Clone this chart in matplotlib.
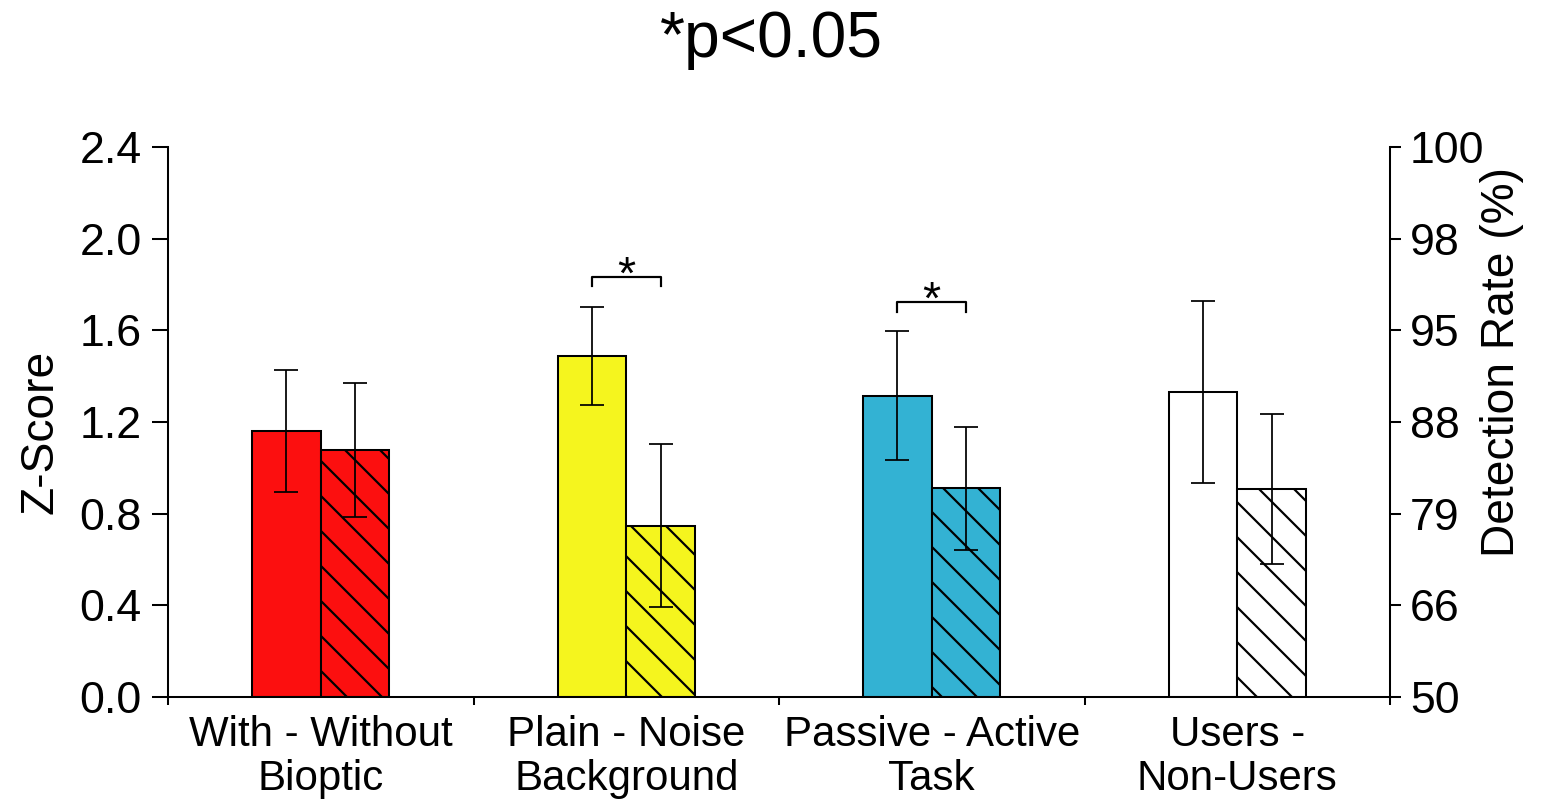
import numpy as np
import matplotlib.pyplot as plt

plt.rcParams['font.family'] = ['Liberation Sans', 'DejaVu Sans']
plt.rcParams['hatch.linewidth'] = 0.75

# data
groups = ["With - Without\nBioptic", "Plain - Noise\nBackground",
          "Passive - Active\nTask", "Users -\nNon-Users"]
first_vals = [1.162, 1.49, 1.315, 1.332]
first_err = [0.267, 0.214, 0.282, 0.397]
second_vals = [1.078, 0.747, 0.911, 0.908]
second_err = [0.292, 0.355, 0.269, 0.326]
colors = ["#fc0f0f", "#f5f51e", "#33b2d3", "#ffffff"]

yticks = [0.0, 0.4, 0.8, 1.2, 1.6, 2.0, 2.4]
right_labels = ["50", "66", "79", "88", "95", "98", "100"]

# significance brackets: group index, bracket height, tick drop
sig_groups = [1, 2]
sig_heights = [1.834, 1.724]
sig_drop = 0.042

W, H, DPI = 1543, 802, 210
fig = plt.figure(figsize=(W / DPI, H / DPI), dpi=DPI)
ax = fig.add_axes([168 / W, 1 - 697 / H, (1390 - 168) / W, (697 - 147) / H])

x = np.arange(len(groups))
bw = 0.225
ekw = dict(elinewidth=0.6, capthick=0.6, ecolor="black")
ax.bar(x - bw / 2, first_vals, bw, color=colors, edgecolor="black",
       linewidth=0.7, yerr=first_err, capsize=4, error_kw=ekw, zorder=2)
ax.bar(x + bw / 2, second_vals, bw, color=colors, edgecolor="black",
       linewidth=0.7, hatch="\\\\", yerr=second_err, capsize=4, error_kw=ekw, zorder=2)

for g, h in zip(sig_groups, sig_heights):
    xl, xr = g - bw / 2, g + bw / 2
    ax.plot([xl, xl, xr, xr], [h - sig_drop, h, h, h - sig_drop],
            color="black", linewidth=0.75, zorder=3)
    ax.text(g, h, "*", ha="center", va="center", fontsize=16)

ax.set_xlim(-0.5, 3.5)
ax.set_ylim(0, 2.4)
ax.set_yticks(yticks)
ax.set_yticklabels([f"{t:.1f}" for t in yticks])
ax.set_xticks(x)
ax.set_xticklabels(groups, linespacing=1.15)
ax.set_xticks(np.arange(-0.5, 3.6, 1.0), minor=True)
ax.tick_params(axis="x", which="major", length=0, labelsize=14.4, pad=6)
ax.tick_params(axis="x", which="minor", length=2.8, width=0.7, direction="out")
ax.tick_params(axis="y", length=5.5, width=0.7, labelsize=15.3, pad=3.5)
for s in ["top", "right"]:
    ax.spines[s].set_visible(False)
ax.spines["left"].set_linewidth(0.7)
ax.spines["bottom"].set_linewidth(0.7)

ax2 = ax.twinx()
ax2.set_ylim(0, 2.4)
ax2.set_yticks(yticks)
ax2.set_yticklabels(right_labels)
ax2.tick_params(axis="y", length=3.8, width=0.7, labelsize=15.3, pad=3)
for s in ["top", "left", "bottom"]:
    ax2.spines[s].set_visible(False)
ax2.spines["right"].set_linewidth(0.7)

fig.text(40 / W, 1 - 432 / H, "Z-Score", rotation=90, ha="center", va="center", fontsize=15.8)
fig.text(1502 / W, 1 - 362 / H, "Detection Rate (%)", rotation=90, ha="center",
         va="center", fontsize=15.8)
fig.text(0.5, 1 - 40 / H, "*p<0.05", ha="center", va="center", fontsize=22)

fig.savefig("out.png", dpi=DPI)
